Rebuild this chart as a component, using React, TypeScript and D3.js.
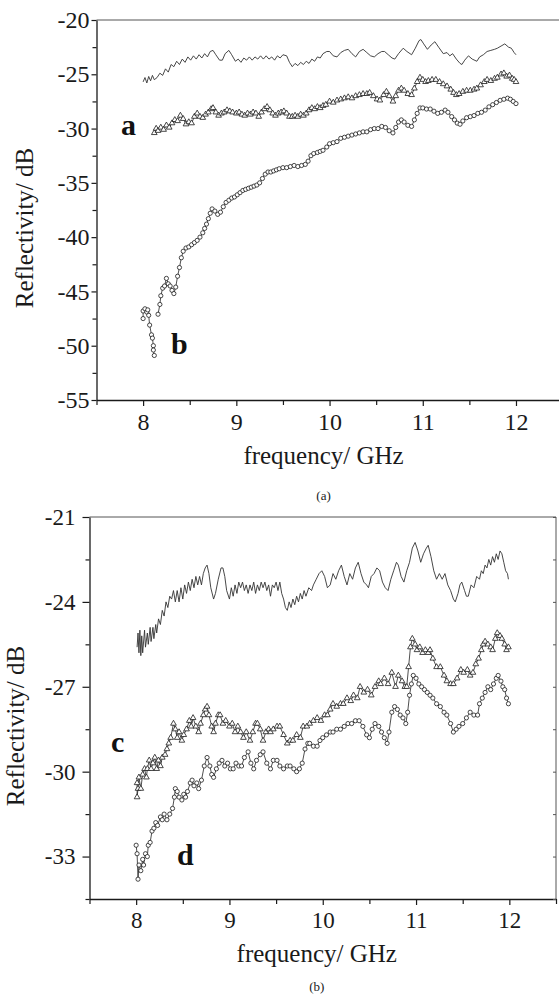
import React, { useEffect, useRef } from "react";
import * as d3 from "d3";

type Pt = [number, number | null];

// ---- data ----
const freqMajor = [8, 9, 10, 11, 12];
const freqMinor = [7.5, 8.5, 9.5, 10.5, 11.5, 12.5];

const ticksA = [-20, -25, -30, -35, -40, -45, -50, -55];
const minorA = [-22.5, -27.5, -32.5, -37.5, -42.5, -47.5, -52.5];
const ticksB = [-21, -24, -27, -30, -33];
const minorB = [-22.5, -25.5, -28.5, -31.5, -34.5];

// panel (a), thin reference line
const refA: Pt[] = [
  [8.0, -25.7], [8.02, -25.3], [8.04, -25.8], [8.06, -25.2], [8.08, -25.6], [8.1, -25.1], [8.12, -25.5],
  [8.15, -25.3], [8.18, -24.9], [8.21, -25.1], [8.24, -24.5], [8.27, -24.8], [8.3, -24.1], [8.33, -24.3],
  [8.36, -23.8], [8.39, -24.1], [8.42, -23.6], [8.45, -23.9], [8.48, -23.4], [8.51, -23.7], [8.54, -23.3],
  [8.57, -23.6], [8.6, -23.2], [8.63, -23.5], [8.66, -23.1], [8.69, -23.4], [8.72, -22.9], [8.75, -22.8],
  [8.78, -23.2], [8.82, -23.7], [8.85, -23.7], [8.88, -23.1], [8.92, -22.8], [8.95, -23.2], [8.99, -23.8],
  [9.02, -23.6], [9.05, -23.9], [9.08, -23.5], [9.11, -23.7], [9.14, -23.4], [9.17, -23.7], [9.2, -23.4],
  [9.23, -23.6], [9.26, -23.3], [9.29, -23.6], [9.32, -23.3], [9.35, -23.6], [9.38, -23.4], [9.41, -23.7],
  [9.44, -23.3], [9.47, -23.5], [9.5, -23.2], [9.54, -23.3], [9.57, -23.9], [9.6, -24.3], [9.63, -24.0],
  [9.66, -24.2], [9.69, -23.9], [9.72, -24.1], [9.75, -23.8], [9.78, -24.0], [9.81, -23.6], [9.84, -23.8],
  [9.87, -23.4], [9.9, -23.5], [9.93, -23.1], [9.97, -22.9], [10.0, -22.9], [10.04, -23.3], [10.08, -23.4],
  [10.12, -23.0], [10.16, -22.8], [10.2, -22.7], [10.24, -23.1], [10.28, -23.4], [10.32, -22.9], [10.36, -22.7],
  [10.4, -23.0], [10.44, -23.3], [10.48, -23.4], [10.52, -23.1], [10.56, -22.9], [10.59, -22.9], [10.63, -23.2],
  [10.67, -23.5], [10.7, -23.6], [10.74, -23.1], [10.79, -22.6], [10.83, -22.9], [10.88, -23.2], [10.92, -22.6],
  [10.96, -21.9], [10.98, -21.8], [11.01, -22.2], [11.05, -22.7], [11.09, -22.3], [11.13, -22.0], [11.17, -22.5],
  [11.22, -23.1], [11.26, -23.0], [11.29, -23.3], [11.32, -23.1], [11.36, -23.6], [11.4, -24.0], [11.42, -24.1],
  [11.45, -23.7], [11.49, -23.3], [11.53, -23.6], [11.58, -23.8], [11.61, -23.4], [11.65, -23.2], [11.69, -22.9],
  [11.73, -22.8], [11.77, -22.7], [11.8, -22.6], [11.84, -22.4], [11.88, -22.2], [11.92, -22.5], [11.95, -22.6],
  [11.98, -23.0], [12.0, -23.2],
];

// panel (a), sample a (triangles)
const seriesA: Pt[] = [
  [8.12, -30.4], [8.14, -30.0], [8.16, -30.2], [8.19, -29.9], [8.22, -30.1], [8.25, -29.7], [8.28, -29.9],
  [8.31, -29.5], [8.34, -29.2], [8.37, -29.3], [8.4, -28.8], [8.43, -29.1], [8.46, -29.6], [8.49, -29.4],
  [8.52, -29.5], [8.55, -28.9], [8.58, -28.6], [8.61, -28.9], [8.64, -29.0], [8.67, -28.7], [8.7, -28.5],
  [8.73, -28.2], [8.75, -28.1], [8.78, -28.5], [8.81, -28.8], [8.84, -28.6], [8.87, -28.5], [8.9, -28.3],
  [8.93, -28.4], [8.96, -28.5], [9.0, -28.6], [9.03, -28.5], [9.06, -28.7], [9.09, -28.8], [9.12, -28.6],
  [9.15, -28.7], [9.18, -28.5], [9.21, -28.6], [9.24, -28.9], [9.27, -28.5], [9.3, -28.2], [9.33, -28.0],
  [9.36, -28.3], [9.39, -28.6], [9.42, -28.8], [9.45, -28.6], [9.48, -28.5], [9.51, -28.4], [9.54, -28.6],
  [9.57, -28.9], [9.6, -28.9], [9.63, -28.8], [9.66, -28.9], [9.69, -28.7], [9.72, -28.8], [9.75, -28.6],
  [9.78, -28.3], [9.81, -28.1], [9.84, -28.2], [9.87, -28.0], [9.9, -28.1], [9.93, -27.9], [9.96, -27.8],
  [10.0, -27.5], [10.04, -27.6], [10.08, -27.4], [10.12, -27.3], [10.16, -27.2], [10.2, -27.1], [10.24, -27.2],
  [10.28, -27.0], [10.32, -26.9], [10.36, -26.8], [10.4, -26.8], [10.43, -26.7], [10.47, -27.0], [10.51, -27.3],
  [10.54, -27.4], [10.58, -26.9], [10.61, -26.6], [10.64, -27.0], [10.68, -27.5], [10.71, -27.0], [10.74, -26.5],
  [10.77, -26.3], [10.8, -26.5], [10.84, -26.8], [10.88, -26.9], [10.91, -26.3], [10.94, -25.7], [10.97, -25.3],
  [11.0, -25.5], [11.03, -25.7], [11.06, -25.6], [11.1, -25.5], [11.14, -25.5], [11.18, -25.7], [11.22, -25.9],
  [11.26, -26.1], [11.3, -26.4], [11.33, -26.7], [11.36, -26.9], [11.39, -26.8], [11.43, -26.6], [11.47, -26.5],
  [11.51, -26.5], [11.55, -26.4], [11.58, -26.3], [11.62, -26.0], [11.66, -25.7], [11.69, -25.5], [11.73, -25.6],
  [11.77, -25.4], [11.8, -25.3], [11.84, -25.0], [11.87, -24.9], [11.9, -25.2], [11.93, -25.1], [11.96, -25.4],
  [11.98, -25.5], [12.0, -25.7],
];

// panel (a), sample b (circles); null marks the gap near 8.14 GHz
const seriesB: Pt[] = [
  [8.0, -47.5], [8.0, -46.8], [8.02, -46.6], [8.04, -46.9], [8.05, -46.7], [8.06, -47.2], [8.07, -48.1],
  [8.09, -49.0], [8.1, -49.3], [8.11, -50.0], [8.11, -50.4], [8.12, -50.9], [8.14, null],
  [8.16, -47.1], [8.18, -46.2], [8.19, -45.4], [8.21, -44.7], [8.23, -44.5], [8.25, -43.8], [8.27, -44.3],
  [8.29, -44.5], [8.31, -44.9], [8.33, -45.2], [8.35, -44.6], [8.37, -43.6], [8.39, -42.8], [8.41, -41.9],
  [8.43, -41.3], [8.46, -41.0], [8.49, -40.9], [8.52, -40.7], [8.55, -40.5], [8.58, -40.3], [8.61, -40.0],
  [8.64, -39.6], [8.66, -39.2], [8.68, -38.8], [8.7, -38.3], [8.72, -37.8], [8.74, -37.4], [8.77, -37.6],
  [8.8, -37.9], [8.83, -37.7], [8.86, -37.2], [8.89, -36.8], [8.92, -36.6], [8.95, -36.4], [8.98, -36.3],
  [9.01, -36.1], [9.04, -35.9], [9.07, -35.7], [9.1, -35.6], [9.13, -35.5], [9.16, -35.4], [9.19, -35.3],
  [9.22, -35.2], [9.25, -35.0], [9.28, -34.6], [9.31, -34.2], [9.34, -34.0], [9.37, -34.0], [9.4, -33.9],
  [9.43, -33.8], [9.46, -33.7], [9.5, -33.6], [9.54, -33.6], [9.58, -33.5], [9.62, -33.4], [9.66, -33.5],
  [9.7, -33.4], [9.74, -33.3], [9.77, -33.0], [9.8, -32.5], [9.83, -32.3], [9.87, -32.2], [9.9, -32.1],
  [9.93, -32.0], [9.97, -31.7], [10.0, -31.4], [10.04, -31.3], [10.08, -31.2], [10.12, -30.9], [10.16, -30.8],
  [10.2, -30.7], [10.24, -30.6], [10.28, -30.5], [10.32, -30.4], [10.36, -30.3], [10.4, -30.3], [10.44, -30.1],
  [10.48, -30.0], [10.52, -30.0], [10.56, -29.8], [10.6, -29.9], [10.64, -30.2], [10.68, -30.4], [10.71, -29.9],
  [10.74, -29.4], [10.77, -29.2], [10.8, -29.4], [10.84, -29.7], [10.88, -29.8], [10.91, -29.2], [10.94, -28.6],
  [10.97, -28.1], [11.0, -28.1], [11.04, -28.2], [11.08, -28.2], [11.12, -28.4], [11.16, -28.6], [11.2, -28.5],
  [11.24, -28.3], [11.27, -28.5], [11.31, -28.9], [11.34, -29.2], [11.37, -29.5], [11.4, -29.6], [11.43, -29.3],
  [11.47, -29.0], [11.51, -28.9], [11.55, -28.8], [11.59, -28.6], [11.63, -28.5], [11.67, -28.3], [11.71, -28.0],
  [11.75, -27.8], [11.79, -27.6], [11.83, -27.4], [11.87, -27.3], [11.91, -27.2], [11.94, -27.3], [11.97, -27.5],
  [12.0, -27.7],
];

// panel (b), thin reference line
const refB: Pt[] = [
  [8.01, -25.6], [8.02, -25.1], [8.03, -25.8], [8.04, -25.0], [8.05, -25.9], [8.06, -25.2], [8.07, -25.8],
  [8.09, -25.0], [8.1, -25.6], [8.12, -25.1], [8.13, -25.5], [8.15, -24.9], [8.16, -25.4], [8.18, -24.9],
  [8.19, -25.3], [8.21, -24.8], [8.22, -25.1], [8.24, -24.6], [8.26, -24.8], [8.28, -24.3], [8.3, -24.5],
  [8.32, -24.0], [8.34, -24.2], [8.36, -23.8], [8.38, -23.9], [8.4, -23.6], [8.42, -24.0], [8.44, -23.6],
  [8.46, -24.0], [8.48, -23.5], [8.5, -23.9], [8.52, -23.4], [8.54, -23.7], [8.56, -23.3], [8.58, -23.6],
  [8.6, -23.2], [8.62, -23.5], [8.64, -23.1], [8.66, -23.4], [8.68, -23.1], [8.7, -23.4], [8.72, -23.0],
  [8.74, -22.8], [8.76, -22.7], [8.78, -23.0], [8.8, -23.5], [8.83, -23.9], [8.85, -23.7], [8.88, -23.2],
  [8.91, -22.8], [8.93, -22.8], [8.95, -23.1], [8.97, -23.6], [9.0, -23.9], [9.02, -23.5], [9.04, -23.8],
  [9.06, -23.4], [9.08, -23.7], [9.1, -23.3], [9.12, -23.5], [9.14, -23.3], [9.16, -23.6], [9.18, -23.4],
  [9.2, -23.7], [9.22, -23.4], [9.24, -23.6], [9.26, -23.3], [9.28, -23.7], [9.3, -23.4], [9.32, -23.6],
  [9.34, -23.3], [9.36, -23.5], [9.38, -23.3], [9.4, -23.6], [9.42, -23.4], [9.44, -23.8], [9.46, -23.4],
  [9.48, -23.5], [9.5, -23.3], [9.52, -23.6], [9.54, -23.3], [9.56, -23.7], [9.58, -23.9], [9.6, -24.2],
  [9.62, -24.3], [9.64, -24.0], [9.66, -24.2], [9.68, -23.9], [9.7, -24.1], [9.72, -23.8], [9.74, -24.0],
  [9.76, -23.7], [9.78, -23.9], [9.8, -23.6], [9.82, -23.8], [9.85, -23.5], [9.88, -23.6], [9.9, -23.4],
  [9.93, -23.2], [9.96, -23.0], [9.99, -22.9], [10.02, -23.1], [10.05, -23.5], [10.08, -23.4], [10.11, -23.0],
  [10.14, -23.2], [10.17, -22.9], [10.2, -22.7], [10.23, -23.1], [10.26, -23.4], [10.29, -23.0], [10.32, -23.2],
  [10.35, -22.8], [10.38, -22.6], [10.41, -23.0], [10.44, -23.3], [10.47, -23.4], [10.49, -23.5], [10.52, -23.1],
  [10.55, -23.0], [10.58, -22.8], [10.61, -22.9], [10.64, -23.3], [10.67, -23.5], [10.7, -23.6], [10.73, -23.2],
  [10.76, -22.9], [10.79, -22.6], [10.81, -22.7], [10.84, -23.1], [10.87, -23.3], [10.9, -22.9], [10.93, -22.6],
  [10.96, -22.1], [10.99, -21.9], [11.02, -22.2], [11.05, -22.6], [11.08, -22.3], [11.11, -22.1], [11.13, -22.0],
  [11.16, -22.4], [11.19, -22.9], [11.22, -23.2], [11.25, -23.0], [11.28, -23.2], [11.31, -23.0], [11.34, -23.4],
  [11.37, -23.6], [11.4, -23.9], [11.42, -24.0], [11.45, -23.7], [11.47, -23.4], [11.49, -23.3], [11.52, -23.6],
  [11.54, -23.8], [11.56, -23.8], [11.59, -23.4], [11.62, -23.5], [11.65, -23.1], [11.68, -23.2], [11.7, -22.9],
  [11.72, -23.0], [11.74, -22.7], [11.76, -22.8], [11.78, -22.5], [11.8, -22.7], [11.82, -22.4], [11.84, -22.6],
  [11.86, -22.3], [11.88, -22.5], [11.9, -22.2], [11.92, -22.3], [11.94, -22.6], [11.96, -22.9], [11.98, -23.0],
  [11.99, -23.2],
];

// panel (b), sample c (triangles)
const seriesC: Pt[] = [
  [8.01, -30.4], [8.01, -30.9], [8.02, -30.6], [8.03, -30.2], [8.05, -30.6], [8.07, -30.1], [8.09, -29.9],
  [8.11, -30.2], [8.12, -29.9], [8.14, -29.6], [8.16, -29.9], [8.18, -29.7], [8.2, -29.5], [8.22, -29.9],
  [8.24, -29.6], [8.26, -29.8], [8.28, -29.5], [8.31, -29.4], [8.33, -29.2], [8.35, -29.0], [8.37, -28.8],
  [8.4, -28.3], [8.42, -28.5], [8.44, -28.8], [8.46, -28.6], [8.49, -28.9], [8.51, -28.7], [8.54, -28.5],
  [8.57, -28.2], [8.59, -28.4], [8.61, -28.1], [8.64, -28.4], [8.67, -28.6], [8.69, -28.3], [8.72, -28.0],
  [8.74, -27.8], [8.76, -27.7], [8.78, -28.0], [8.81, -28.4], [8.83, -28.6], [8.85, -28.3], [8.88, -28.0],
  [8.9, -28.0], [8.93, -28.3], [8.96, -28.2], [9.0, -28.4], [9.03, -28.3], [9.06, -28.6], [9.09, -28.4],
  [9.12, -28.6], [9.15, -28.8], [9.18, -28.6], [9.22, -28.9], [9.25, -28.6], [9.28, -28.3], [9.3, -28.3],
  [9.33, -28.5], [9.36, -28.9], [9.39, -28.6], [9.42, -28.5], [9.44, -28.6], [9.47, -28.5], [9.51, -28.4],
  [9.54, -28.4], [9.58, -28.7], [9.62, -29.0], [9.65, -28.9], [9.68, -28.9], [9.72, -28.7], [9.76, -28.8],
  [9.79, -28.4], [9.83, -28.4], [9.86, -28.3], [9.9, -28.2], [9.94, -28.1], [9.98, -28.2], [10.02, -28.0],
  [10.05, -28.0], [10.08, -27.8], [10.11, -27.6], [10.15, -27.7], [10.19, -27.6], [10.22, -27.6], [10.26, -27.4],
  [10.3, -27.5], [10.33, -27.3], [10.37, -27.4], [10.4, -27.0], [10.44, -27.2], [10.48, -27.1], [10.52, -27.3],
  [10.56, -27.0], [10.6, -26.8], [10.62, -26.9], [10.66, -26.7], [10.7, -26.9], [10.74, -26.5], [10.78, -27.0],
  [10.81, -26.6], [10.85, -26.8], [10.88, -27.0], [10.9, -27.0], [10.92, -26.3], [10.94, -25.6], [10.96, -25.3],
  [10.99, -25.5], [11.01, -25.7], [11.04, -25.6], [11.07, -25.8], [11.1, -25.7], [11.13, -25.8], [11.15, -25.7],
  [11.18, -26.0], [11.22, -26.3], [11.26, -26.3], [11.3, -26.6], [11.33, -26.8], [11.37, -26.9], [11.4, -26.9],
  [11.44, -26.7], [11.48, -26.4], [11.51, -26.5], [11.55, -26.4], [11.58, -26.6], [11.61, -26.5], [11.64, -26.2],
  [11.67, -26.0], [11.7, -25.7], [11.72, -25.5], [11.74, -25.4], [11.77, -25.5], [11.8, -25.6], [11.82, -25.7],
  [11.85, -25.3], [11.87, -25.1], [11.9, -25.2], [11.92, -25.3], [11.95, -25.5], [11.97, -25.7], [11.99, -25.6],
];

// panel (b), sample d (circles)
const seriesD: Pt[] = [
  [8.0, -32.6], [8.01, -32.9], [8.02, -33.8], [8.03, -33.3], [8.05, -33.5], [8.07, -33.1], [8.08, -33.3],
  [8.1, -32.9], [8.12, -33.0], [8.13, -32.6], [8.15, -32.5], [8.17, -32.1], [8.19, -32.0], [8.21, -31.8],
  [8.23, -31.9], [8.26, -31.6], [8.28, -31.7], [8.3, -31.5], [8.33, -31.7], [8.36, -31.5], [8.39, -31.3],
  [8.41, -30.9], [8.42, -30.6], [8.44, -30.7], [8.46, -30.9], [8.49, -31.0], [8.51, -30.8], [8.53, -30.9],
  [8.55, -30.7], [8.58, -30.4], [8.6, -30.3], [8.62, -30.5], [8.65, -30.4], [8.67, -30.6], [8.7, -30.3],
  [8.73, -29.8], [8.76, -29.5], [8.79, -29.8], [8.81, -30.1], [8.83, -30.2], [8.86, -29.9], [8.89, -29.7],
  [8.92, -29.6], [8.95, -29.8], [8.98, -29.7], [9.01, -29.9], [9.04, -29.9], [9.07, -29.7], [9.1, -29.8],
  [9.13, -29.8], [9.16, -29.5], [9.2, -29.3], [9.23, -29.7], [9.26, -29.9], [9.29, -29.6], [9.33, -29.4],
  [9.36, -29.3], [9.4, -29.7], [9.44, -29.9], [9.47, -29.6], [9.51, -29.6], [9.54, -29.8], [9.58, -29.9],
  [9.62, -29.8], [9.65, -29.8], [9.69, -29.9], [9.72, -30.0], [9.75, -29.9], [9.78, -29.7], [9.81, -29.2],
  [9.84, -29.0], [9.86, -29.0], [9.9, -29.1], [9.94, -29.1], [9.97, -28.9], [10.0, -28.8], [10.04, -28.7],
  [10.08, -28.6], [10.11, -28.6], [10.15, -28.5], [10.19, -28.5], [10.23, -28.4], [10.27, -28.3], [10.31, -28.3],
  [10.35, -28.2], [10.39, -28.2], [10.43, -28.4], [10.47, -28.7], [10.5, -28.8], [10.53, -28.5], [10.56, -28.3],
  [10.6, -28.4], [10.63, -28.6], [10.66, -28.8], [10.69, -29.0], [10.71, -28.6], [10.74, -27.9], [10.77, -27.7],
  [10.8, -27.8], [10.83, -28.0], [10.86, -28.1], [10.89, -28.3], [10.91, -27.9], [10.93, -27.3], [10.95, -26.9],
  [10.97, -26.6], [11.0, -26.7], [11.03, -26.9], [11.06, -27.0], [11.09, -27.1], [11.12, -27.2], [11.15, -27.3],
  [11.18, -27.4], [11.22, -27.6], [11.26, -27.7], [11.3, -27.9], [11.33, -28.0], [11.37, -28.3], [11.4, -28.6],
  [11.43, -28.5], [11.46, -28.4], [11.5, -28.3], [11.54, -28.1], [11.58, -27.9], [11.62, -28.0], [11.66, -28.0],
  [11.68, -27.6], [11.71, -27.4], [11.74, -27.2], [11.77, -27.0], [11.8, -27.1], [11.83, -26.9], [11.86, -26.7],
  [11.88, -26.6], [11.91, -26.8], [11.93, -27.0], [11.95, -27.1], [11.97, -27.4], [11.99, -27.6],
];

type Series = { data: Pt[]; marker: "none" | "circle" | "triangle" };

type PanelCfg = {
  left: number;
  right: number;
  top: number;
  bottom: number;
  yDomain: [number, number];
  yMajor: number[];
  yMinor: number[];
  yTickSize: number;
  yPad: number;
  tickFont: number;
  rightFrame: boolean;
  series: Series[];
  letters: { t: string; x: number; y: number }[];
  titleY: number;
  yTitleX: number;
  caption: string;
  captionY: number;
};

const FONT = "Liberation Serif";
const INK = "#1a1a1a";

function drawPanel(root: d3.Selection<SVGGElement, unknown, null, undefined>, c: PanelCfg) {
  const x = d3.scaleLinear().domain([7.5, 12.5]).range([c.left, c.right]);
  const y = d3.scaleLinear().domain(c.yDomain).range([c.bottom, c.top]);
  const g = root.append("g");

  // frame lines
  g.append("line").attr("x1", c.left).attr("x2", c.right).attr("y1", c.top).attr("y2", c.top)
    .attr("stroke", "#555").attr("stroke-width", 1);
  if (c.rightFrame) {
    g.append("line").attr("x1", c.right).attr("x2", c.right).attr("y1", c.top).attr("y2", c.bottom)
      .attr("stroke", "#555").attr("stroke-width", 1);
  }

  const styleAxis = (s: d3.Selection<SVGGElement, unknown, null, undefined>) => {
    s.attr("font-family", FONT).attr("font-size", c.tickFont);
    s.selectAll("path.domain").attr("stroke", INK).attr("stroke-width", 1.3);
    s.selectAll(".tick line").attr("stroke", INK).attr("stroke-width", 1.2);
    s.selectAll(".tick text").attr("fill", INK);
  };

  // y axis
  const ya = g.append("g").attr("transform", `translate(${c.left},0)`)
    .call(d3.axisLeft(y).tickValues(c.yMajor).tickSize(c.yTickSize).tickSizeOuter(0).tickPadding(c.yPad)
      .tickFormat((d) => String(d)));
  styleAxis(ya);
  const yb = g.append("g").attr("transform", `translate(${c.left},0)`)
    .call(d3.axisLeft(y).tickValues(c.yMinor).tickSize(4).tickSizeOuter(0).tickFormat(() => ""));
  yb.select("path.domain").remove();
  styleAxis(yb);

  // x axis
  const xa = g.append("g").attr("transform", `translate(0,${c.bottom})`)
    .call(d3.axisBottom(x).tickValues(freqMajor).tickSize(6).tickSizeOuter(0).tickPadding(7)
      .tickFormat((d) => String(d)));
  styleAxis(xa);
  const xb = g.append("g").attr("transform", `translate(0,${c.bottom})`)
    .call(d3.axisBottom(x).tickValues(freqMinor).tickSize(5).tickSizeOuter(0).tickFormat(() => ""));
  xb.select("path.domain").remove();
  styleAxis(xb);

  if (c.rightFrame) {
    const yr = g.append("g").attr("transform", `translate(${c.right},0)`)
      .call(d3.axisLeft(y).tickValues(c.yMinor.concat(c.yMajor)).tickSize(3).tickSizeOuter(0).tickFormat(() => ""));
    yr.select("path.domain").remove();
    yr.selectAll(".tick line").attr("x2", -3).attr("stroke", "#555");
  }

  // series
  const line = d3.line<Pt>()
    .defined((d) => d[1] !== null)
    .x((d) => x(d[0]))
    .y((d) => y(d[1] as number));

  c.series.forEach((s) => {
    g.append("path").datum(s.data).attr("d", line).attr("fill", "none")
      .attr("stroke", s.marker === "none" ? "#333" : "#222")
      .attr("stroke-width", s.marker === "none" ? 0.9 : 0.8);
    const pts = s.data.filter((d) => d[1] !== null);
    if (s.marker === "circle") {
      g.append("g").selectAll("circle").data(pts).enter().append("circle")
        .attr("cx", (d) => x(d[0])).attr("cy", (d) => y(d[1] as number)).attr("r", 2.1)
        .attr("fill", "white").attr("stroke", "#1a1a1a").attr("stroke-width", 0.8);
    } else if (s.marker === "triangle") {
      const sym = d3.symbol().type(d3.symbolTriangle).size(14);
      g.append("g").selectAll("path").data(pts).enter().append("path")
        .attr("transform", (d) => `translate(${x(d[0])},${y(d[1] as number)})`)
        .attr("d", sym() as string)
        .attr("fill", "white").attr("stroke", "#1a1a1a").attr("stroke-width", 0.8);
    }
  });

  // curve letters
  c.letters.forEach((l) => {
    g.append("text").attr("x", l.x).attr("y", l.y).text(l.t)
      .attr("font-family", FONT).attr("font-weight", "bold").attr("font-size", 30).attr("fill", "#111");
  });

  // titles
  const midX = (c.left + c.right) / 2 - 6;
  g.append("text").attr("x", midX).attr("y", c.titleY).attr("text-anchor", "middle")
    .attr("font-family", FONT).attr("font-size", 25).attr("fill", INK).text("frequency/ GHz");
  const midY = (c.top + c.bottom) / 2 + 18;
  g.append("text").attr("transform", `translate(${c.yTitleX},${midY}) rotate(-90)`).attr("text-anchor", "middle")
    .attr("font-family", FONT).attr("font-size", 25).attr("fill", INK).text("Reflectivity/ dB");
  g.append("text").attr("x", midX).attr("y", c.captionY).attr("text-anchor", "middle")
    .attr("font-family", FONT).attr("font-size", 13).attr("fill", INK).text(c.caption);
}

export default function App() {
  const ref = useRef<SVGSVGElement | null>(null);

  useEffect(() => {
    if (!ref.current) return;
    const svg = d3.select(ref.current);
    svg.selectAll("*").remove();
    const root = svg.append("g") as unknown as d3.Selection<SVGGElement, unknown, null, undefined>;

    drawPanel(root, {
      left: 96.5, right: 562.6, top: 20, bottom: 400,
      yDomain: [-55, -20], yMajor: ticksA, yMinor: minorA, yTickSize: 5, yPad: 2, tickFont: 24,
      rightFrame: false,
      series: [
        { data: refA, marker: "none" },
        { data: seriesA, marker: "triangle" },
        { data: seriesB, marker: "circle" },
      ],
      letters: [{ t: "a", x: 121, y: 135 }, { t: "b", x: 171, y: 354 }],
      titleY: 464, yTitleX: 33, caption: "(a)", captionY: 500,
    });

    drawPanel(root, {
      left: 89.5, right: 556, top: 517, bottom: 899,
      yDomain: [-34.5, -21], yMajor: ticksB, yMinor: minorB, yTickSize: 7, yPad: 7, tickFont: 23,
      rightFrame: true,
      series: [
        { data: refB, marker: "none" },
        { data: seriesC, marker: "triangle" },
        { data: seriesD, marker: "circle" },
      ],
      letters: [{ t: "c", x: 111, y: 752 }, { t: "d", x: 177, y: 865 }],
      titleY: 962, yTitleX: 24, caption: "(b)", captionY: 991,
    });
  }, []);

  return (
    <svg
      ref={ref}
      width={559}
      height={995}
      style={{ position: "absolute", left: 0, top: 0, background: "white" }}
    />
  );
}
